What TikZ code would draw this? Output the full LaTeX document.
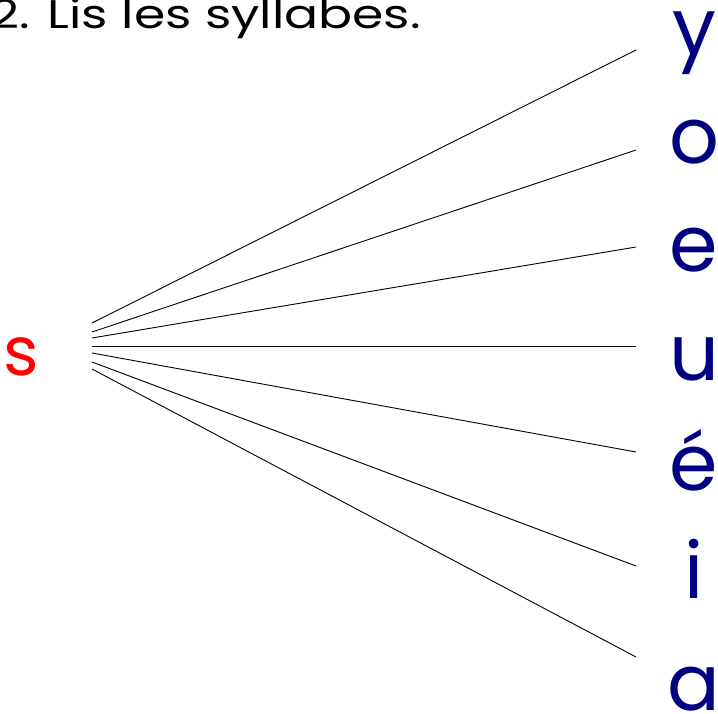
\documentclass[tikz,border=0pt]{standalone}
\usepackage{fontspec}
\setmainfont{Poppins}
\newfontfamily\titlefont[FakeStretch=1.26]{Poppins}
\definecolor{navy}{RGB}{0,0,128}
\begin{document}
\begin{tikzpicture}[x=1pt,y=-1pt,
  vowel/.style={font=\fontsize{78}{80}\selectfont, text=navy, anchor=base, inner sep=0pt},
  link/.style={line width=0.9pt, black}]
\useasboundingbox (0,0) rectangle (718,714);
\clip (0,0) rectangle (718,714);
\node[anchor=base west, inner sep=0pt, font=\titlefont\fontsize{40}{44}\selectfont] (title) at (-10,29) {2. Lis les syllabes.};
\node[anchor=base, inner sep=0pt, text=red, font=\fontsize{68}{70}\selectfont] (s) at (21,375) {s};
\node[vowel] (vy) at (694,55) {y};
\node[vowel] (vo) at (694,164) {o};
\node[vowel] (ve) at (694,272) {e};
\node[vowel] (vu) at (694,380) {u};
\node[vowel] (veac) at (694,490) {é};
\node[vowel] (vi) at (694,598) {i};
\node[vowel] (va) at (694,710) {a};
\coordinate (L1) at (92,323);
\coordinate (L2) at (92,332);
\coordinate (L3) at (92,338);
\coordinate (L4) at (92,346);
\coordinate (L5) at (92,353);
\coordinate (L6) at (92,362);
\coordinate (L7) at (92,369);
\coordinate (R1) at (636,50);
\coordinate (R2) at (636,150);
\coordinate (R3) at (636,247);
\coordinate (R4) at (636,346);
\coordinate (R5) at (636,452);
\coordinate (R6) at (636,566);
\coordinate (R7) at (636,657);
\draw[link] (L1) -- (R1);
\draw[link] (L2) -- (R2);
\draw[link] (L3) -- (R3);
\draw[link] (L4) -- (R4);
\draw[link] (L5) -- (R5);
\draw[link] (L6) -- (R6);
\draw[link] (L7) -- (R7);
\end{tikzpicture}
\end{document}
